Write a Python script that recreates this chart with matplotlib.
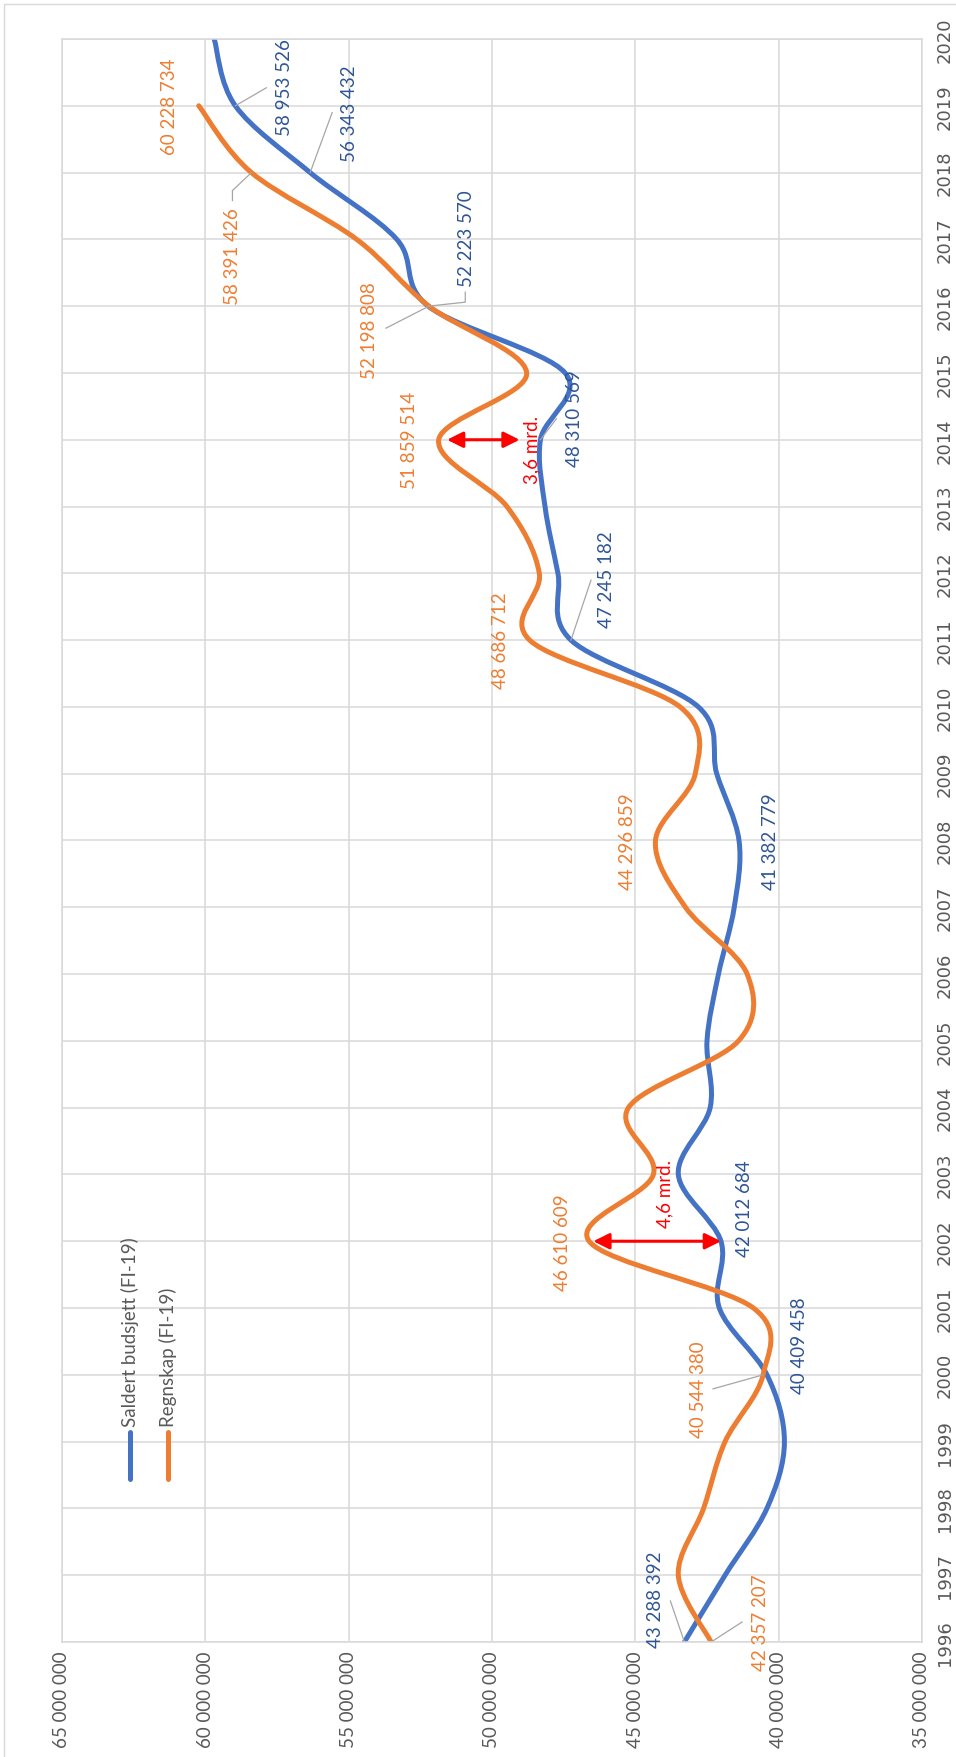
import numpy as np
import matplotlib.pyplot as plt
import matplotlib.transforms as mtransforms
from matplotlib.path import Path
from matplotlib.patches import PathPatch, Rectangle

years = list(range(1996, 2021))

# Saldert budsjett (FI-19), 1996-2020
saldert = [43288392, 41870000, 40410000, 39800000, 40409458, 42070000, 42012684,
           43500000, 42390000, 42500000, 42100000, 41550000, 41382779, 42160000,
           42800000, 47245182, 47700000, 48150000, 48310569, 47450000, 52223570,
           53320000, 56343432, 58953526, 59690000]

# Regnskap (FI-19), 1996-2019
regnskap = [42357207, 43500000, 42620000, 41870000, 40544380, 40880000, 46610609,
            44370000, 45240000, 41400000, 41100000, 43250000, 44296859, 42910000,
            43440000, 48686712, 48350000, 49480000, 51859514, 48790000, 52198808,
            54720000, 58391426, 60228734]

value_ticks = [65000000, 60000000, 55000000, 50000000, 45000000, 40000000, 35000000]
labelled_years = [1996, 2000, 2002, 2008, 2011, 2014, 2016, 2018, 2019]

BLUE = '#4472C4'
ORANGE = '#ED7D31'
BLUE_TXT = '#2F5597'
GRID = '#D9D9D9'
TICK_TXT = '#595959'
LEADER = '#A6A6A6'


def smooth_path(xs, ys):
    # cubic bezier through every point, excel-style smoothing
    pts = np.column_stack([xs, ys]).astype(float)
    n = len(pts)
    verts = [pts[0]]
    codes = [Path.MOVETO]
    for i in range(n - 1):
        p0 = pts[max(i - 1, 0)]
        p1 = pts[i]
        p2 = pts[i + 1]
        p3 = pts[min(i + 2, n - 1)]
        verts += [p1 + (p2 - p0) / 6.0, p2 - (p3 - p1) / 6.0, p2]
        codes += [Path.CURVE4] * 3
    return Path(verts, codes)


def fmt(v):
    return f"{v:,}".replace(",", " ")


fig = plt.figure(figsize=(9.56, 17.58), dpi=100)
ax = fig.add_axes([62 / 956, 1 - 1643 / 1758, 860 / 956, 1603 / 1758])

ax.set_xlim(65000000, 35000000)
ax.set_ylim(1996, 2020)
ax.set_xticks(value_ticks)
ax.set_xticklabels([fmt(v) for v in value_ticks], rotation=90, family='Lato',
                   fontsize=13.5, color=TICK_TXT)
ax.set_yticks(years)
ax.yaxis.tick_right()
ax.set_yticklabels([str(y) for y in years], rotation=90,
                   family=['Liberation Sans Narrow', 'DejaVu Sans'],
                   fontsize=13, color=TICK_TXT)
for lbl in ax.get_yticklabels():
    lbl.set_va('center')
ax.tick_params(length=0)
ax.tick_params(axis='x', pad=6)
ax.tick_params(axis='y', pad=10)
ax.grid(True, color=GRID, lw=1.1)
ax.set_axisbelow(True)
for s in ax.spines.values():
    s.set_color(GRID)
    s.set_linewidth(1.1)

ax.add_patch(PathPatch(smooth_path(saldert, years[:len(saldert)]), fill=False,
                       edgecolor=BLUE, lw=3.6, capstyle='round', joinstyle='round'))
ax.add_patch(PathPatch(smooth_path(regnskap, years[:len(regnskap)]), fill=False,
                       edgecolor=ORANGE, lw=3.6, capstyle='round', joinstyle='round'))

# data label offsets in pixels from the point (x, y up)
blue_off = [(-29, 43), (33, 30), (24, 34), (31, 0), (36, 61), (34, 22), (38, 69), (39, 60), (49, 19)]
orange_off = [(49, 20), (-65, -14), (-27, 0), (-28, 0), (-29, 0), (-29, 0), (-59, -23), (-19, -83), (-29, 0)]

for yr, off in zip(labelled_years, blue_off):
    v = saldert[years.index(yr)]
    ax.annotate(fmt(v), xy=(v, yr), xytext=off, textcoords='offset pixels',
                rotation=90, ha='center', va='center', color=BLUE_TXT,
                fontsize=13.5, family='Lato')
for yr, off in zip(labelled_years, orange_off):
    v = regnskap[years.index(yr)]
    ax.annotate(fmt(v), xy=(v, yr), xytext=off, textcoords='offset pixels',
                rotation=90, ha='center', va='center', color=ORANGE,
                fontsize=13.5, family='Lato')


def leader(v, yr, offsets):
    xs = [o[0] for o in offsets] + [0]
    ys = [o[1] for o in offsets] + [0]
    tr = mtransforms.ScaledTranslation(v, yr, ax.transData)
    ax.add_line(plt.Line2D(xs, ys, transform=tr, color=LEADER, lw=0.9, clip_on=False))


leader(saldert[0], 1996, [(-14, 41)])
leader(saldert[15], 2011, [(20, 60)])
leader(saldert[18], 2014, [(16, 21)])
leader(saldert[20], 2016, [(37, 14), (37, 4)])
leader(saldert[22], 2018, [(22, 60)])
leader(saldert[23], 2019, [(31, 18)])
leader(regnskap[0], 1996, [(31, 20)])
leader(regnskap[4], 2000, [(-50, -14)])
leader(regnskap[20], 2016, [(-43, -22)])
leader(regnskap[22], 2018, [(-19, -28), (-19, -18)])

# gap arrows
arrow = dict(arrowstyle='<|-|>', color='red', lw=2.2, mutation_scale=24)
i = years.index(2002)
ax.annotate('', xy=(saldert[i], 2002), xytext=(regnskap[i], 2002),
            arrowprops=dict(arrow, shrinkA=3, shrinkB=0))
ax.annotate('4,6 mrd.', xy=(saldert[i], 2002), xytext=(-56, 48), textcoords='offset pixels',
            rotation=90, ha='center', va='center', color='red', fontsize=13.5, family='Lato')
i = years.index(2014)
ax.annotate('', xy=(saldert[i], 2014), xytext=(regnskap[i], 2014),
            arrowprops=dict(arrow, shrinkA=6, shrinkB=15))
ax.annotate('3,6 mrd.', xy=(saldert[i], 2014), xytext=(-9, -9), textcoords='offset pixels',
            rotation=90, ha='center', va='center', color='red', fontsize=13.5, family='Lato')

# legend
for x, col, name in [(0.0791, BLUE, 'Saldert budsjett (FI-19)'),
                     (0.1229, ORANGE, 'Regnskap (FI-19)')]:
    ax.plot([x, x], [0.1017, 0.131], transform=ax.transAxes, color=col, lw=3.6,
            solid_capstyle='round', clip_on=False)
    ax.text(x, 0.1345, name, transform=ax.transAxes, rotation=90, ha='center',
            va='bottom', color=TICK_TXT, fontsize=13.5, family='Lato')

fig.add_artist(Rectangle((4 / 956, -0.01), 1.0, 1.01 - 5 / 1758, transform=fig.transFigure,
                         fill=False, edgecolor=GRID, lw=1))

fig.savefig('out.png', dpi=100)
